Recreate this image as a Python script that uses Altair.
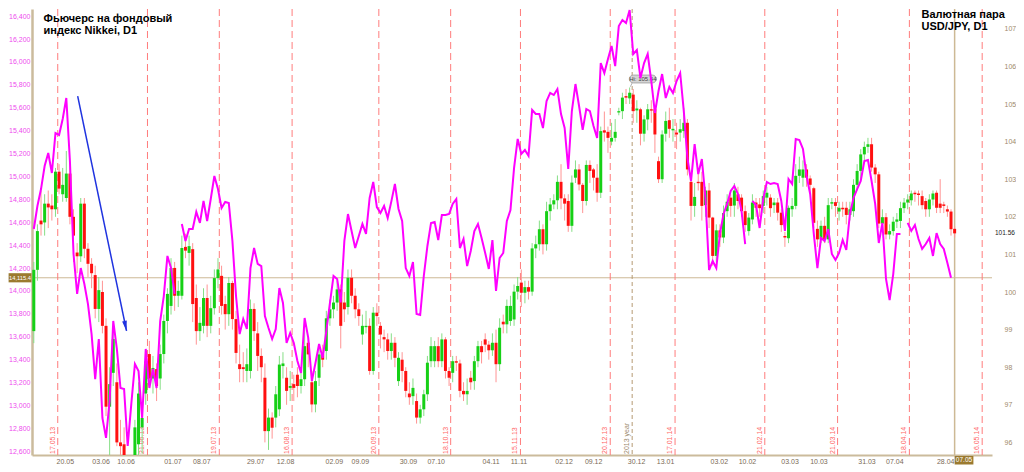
import altair as alt
import pandas as pd

# ---------------- data ----------------
# USD/JPY daily candles (right axis), one value per trading day
OPEN = [
98.96,100.59,101.90,101.85,102.35,102.30,102.20,103.20,102.60,102.50,
103.15,102.00,101.05,100.95,102.35,101.15,100.75,100.45,99.55,100.00,
99.10,96.95,97.85,97.60,96.00,95.95,95.30,94.10,95.30,95.95,
96.40,97.30,98.35,97.70,97.95,97.70,98.35,99.23,99.63,100.64,
99.90,99.90,101.20,101.04,101.14,99.84,98.96,99.10,99.84,99.10,
99.57,100.37,100.43,99.68,99.41,100.24,99.28,98.08,98.00,97.90,
97.90,99.55,98.90,98.30,97.72,96.30,96.66,96.66,96.88,98.03,
97.72,97.45,97.55,97.80,97.50,97.68,98.65,97.60,97.01,97.72,
98.34,98.43,99.30,99.54,99.72,100.07,99.72,99.60,100.38,99.90,
99.54,98.87,99.10,99.10,97.90,99.45,99.10,98.80,98.74,98.43,
98.65,97.63,98.20,97.90,97.30,97.23,97.10,96.66,96.88,97.28,
98.16,98.16,98.56,98.16,98.74,97.90,97.85,98.16,98.10,97.37,
97.28,97.72,97.63,98.16,98.56,98.74,98.60,98.45,98.65,98.08,
99.21,99.14,99.23,99.27,100.01,100.25,99.98,100.13,100.01,101.16,
101.27,101.67,101.27,102.15,102.33,102.44,102.93,102.49,102.42,101.76,
103.04,103.26,102.85,102.42,103.38,103.26,103.04,102.64,104.30,104.26,
104.00,104.10,104.81,104.81,105.21,105.15,105.25,104.83,104.86,104.21,
104.59,104.86,104.86,103.48,103.00,104.21,104.57,104.30,104.24,104.24,
104.28,104.50,102.93,102.29,102.93,102.93,102.31,102.70,101.98,100.96,
101.64,101.45,102.15,102.51,102.30,102.60,102.51,102.15,101.62,101.93,
102.38,102.33,102.29,102.51,102.51,102.31,102.38,102.11,101.49,101.43,
102.20,102.29,103.09,103.04,103.26,103.02,102.76,101.68,101.40,101.76,
101.40,102.35,102.39,102.14,102.24,102.24,102.05,102.15,102.85,103.22,
103.66,103.86,103.93,103.31,103.13,101.82,101.99,101.53,101.62,101.87,
101.89,102.23,102.38,102.44,102.64,102.62,102.55,102.42,102.20,102.46,
102.64,102.35,102.33,102.20,102.14,101.68]
HIGH = [
100.80,101.80,102.70,102.60,102.70,102.60,103.30,103.40,103.30,103.75,
103.40,102.20,101.30,102.50,102.50,101.30,100.90,100.70,100.40,100.30,
99.30,98.00,99.00,98.10,96.60,96.40,95.40,95.30,96.60,97.60,
97.00,98.40,98.70,98.30,98.10,98.60,99.40,100.10,100.90,100.80,
100.30,101.50,101.55,101.50,101.30,100.20,99.60,100.10,100.20,99.90,
100.60,100.90,100.70,99.90,100.40,100.30,99.50,98.60,98.40,98.50,
99.80,99.70,99.20,98.50,98.10,96.90,96.80,97.50,98.30,98.40,
98.00,97.90,97.80,98.00,98.00,99.00,98.80,97.90,97.90,98.60,
98.60,99.50,99.80,99.90,100.30,100.20,100.00,100.60,100.60,100.10,
99.70,99.40,99.50,99.30,99.60,99.70,99.20,99.00,98.90,98.90,
98.80,98.40,98.40,98.00,97.60,97.70,97.30,97.00,97.40,98.30,
98.80,98.70,98.80,98.90,98.80,98.00,98.30,98.30,98.20,97.60,
97.70,97.90,98.30,98.70,98.70,98.90,98.70,98.90,99.00,99.30,
99.40,99.80,99.90,100.20,100.40,100.60,100.30,100.30,101.30,101.50,
101.90,101.80,102.40,102.50,102.60,103.10,103.40,102.60,102.60,103.10,
103.50,103.40,102.90,103.50,103.50,103.30,103.40,104.40,104.80,104.40,
104.50,104.60,104.90,105.30,105.40,105.44,105.40,105.10,104.90,104.70,
105.00,105.10,104.90,103.60,104.30,104.80,104.90,104.60,104.50,104.60,
104.90,104.60,103.10,102.90,103.20,103.20,102.80,102.90,102.00,101.80,
101.80,102.30,102.60,102.60,102.90,102.80,102.60,102.30,102.10,102.60,
102.50,102.50,102.70,102.80,102.60,102.50,102.50,102.20,101.60,102.30,
102.50,103.40,103.60,103.50,103.40,103.10,102.80,101.90,101.90,102.00,
102.50,102.50,102.50,102.40,102.40,102.40,102.40,103.00,103.40,103.80,
104.00,104.10,104.10,103.40,103.20,102.20,102.10,101.80,102.00,102.10,
102.40,102.50,102.60,102.70,102.70,102.70,102.70,102.50,102.60,102.70,
102.70,103.00,102.40,102.30,102.20,101.75]
LOW = [
98.64,100.30,101.50,101.50,101.70,101.90,102.00,102.60,102.40,102.40,
101.80,100.80,100.50,100.80,100.90,100.40,100.10,99.30,99.20,98.90,
96.70,95.40,97.50,95.90,95.60,94.50,93.80,93.90,95.00,95.60,
95.70,97.00,97.50,97.30,97.10,97.40,98.10,98.90,99.40,99.50,
99.60,99.80,100.90,100.70,99.20,98.60,98.70,98.90,98.80,98.90,
99.40,100.10,99.40,99.00,99.10,99.00,98.10,97.60,97.60,97.60,
97.70,98.70,97.90,97.60,96.00,95.80,96.10,96.40,96.70,97.70,
97.00,97.10,97.10,97.20,97.30,97.50,98.00,96.80,96.80,97.50,
98.00,98.20,99.10,99.30,99.50,98.50,99.20,99.40,99.70,99.30,
99.10,98.60,98.90,97.80,97.80,99.10,98.50,98.40,98.20,98.20,
98.00,97.50,97.60,97.20,97.00,97.00,96.50,96.50,96.70,97.10,
98.00,98.00,98.00,98.00,97.70,97.50,97.60,97.90,97.20,97.10,
97.00,97.40,97.40,98.00,98.10,98.40,98.20,98.30,97.60,97.90,
98.90,98.90,99.10,99.10,99.80,99.60,99.70,99.80,99.90,100.90,
101.10,101.00,101.10,101.90,102.20,102.20,102.20,101.90,101.60,101.60,
102.90,102.70,102.10,102.30,102.90,102.70,102.40,102.50,104.00,103.70,
103.90,104.00,104.70,104.60,105.00,105.00,104.50,104.50,103.90,104.00,
104.30,104.50,103.70,102.90,102.90,104.00,104.10,104.00,103.80,104.00,
104.10,103.10,101.90,102.00,102.70,101.90,102.00,101.70,100.70,100.80,
101.20,101.30,102.00,102.00,102.00,102.20,102.00,101.60,101.50,101.80,
102.00,102.00,102.10,102.30,102.00,102.10,101.90,101.60,101.20,101.30,
102.00,102.20,102.90,102.80,102.80,102.60,101.70,101.20,101.30,101.30,
101.30,102.20,102.00,101.90,102.00,101.80,101.90,102.00,102.70,103.00,
103.50,103.70,103.20,102.90,101.70,101.60,101.40,101.40,101.50,101.70,
101.70,102.10,102.20,102.30,102.40,102.30,102.20,102.00,102.00,102.30,
102.10,102.10,102.10,102.00,101.50,101.45]
CLOSE = [
100.59,101.62,101.80,102.35,102.25,102.20,103.20,102.75,102.85,103.15,
102.00,101.50,100.95,102.35,101.15,100.75,100.50,99.55,100.05,99.10,
96.95,97.55,98.75,96.00,95.90,95.50,94.10,95.20,96.40,97.30,
96.65,98.15,97.70,97.98,97.50,98.35,99.23,99.95,100.64,99.90,
100.03,101.17,101.10,101.22,99.68,98.96,99.18,99.84,99.10,99.57,
100.37,100.60,99.63,99.41,100.24,99.28,98.38,97.95,97.95,98.08,
99.55,98.96,98.30,98.00,96.30,96.66,96.39,97.28,98.07,98.10,
97.37,97.50,97.45,97.50,97.68,98.56,98.34,97.01,97.63,98.34,
98.20,99.30,99.54,99.72,100.07,99.10,99.54,100.38,99.90,99.54,
99.36,99.10,99.12,97.90,99.45,99.36,98.87,98.74,98.43,98.65,
98.25,98.25,97.90,97.37,97.20,97.45,96.66,96.88,97.28,98.12,
98.56,98.56,98.16,98.74,97.90,97.72,98.16,98.12,97.37,97.28,
97.37,97.60,98.16,98.56,98.40,98.60,98.45,98.65,98.08,99.05,
99.14,99.63,99.63,100.01,100.16,99.98,100.13,100.01,101.16,101.27,
101.67,101.27,102.15,102.33,102.44,102.93,102.49,102.35,101.76,102.91,
103.26,102.86,102.42,103.38,103.22,103.04,102.64,104.28,104.24,104.10,
104.10,104.26,104.83,105.17,105.17,105.30,104.81,104.88,104.21,104.59,
104.86,104.83,104.19,103.00,104.19,104.55,104.34,104.34,104.19,104.33,
104.50,103.26,102.29,102.53,102.91,102.29,102.70,101.98,100.96,101.64,
101.45,102.10,102.40,102.29,102.70,102.42,102.15,101.78,101.98,102.38,
102.24,102.23,102.55,102.64,102.23,102.38,102.11,101.78,101.45,102.24,
102.29,103.09,103.26,103.26,103.04,102.85,101.84,101.40,101.76,101.40,
102.31,102.39,102.29,102.24,102.20,102.05,102.20,102.85,103.22,103.66,
103.86,103.93,103.31,103.13,101.82,101.99,101.53,101.62,101.87,101.93,
102.23,102.38,102.46,102.62,102.60,102.58,102.31,102.20,102.46,102.62,
102.24,102.24,102.29,102.14,101.67,101.56]

# Nikkei futures close (left axis); None = break in the line
NIKKEI = [
14541,14742,14890,15091,15205,15030,15379,15362,15502,15685,
15135,14323,13974,14200,14061,13886,13624,13231,13581,12891,
12717,13040,13738,13494,13153,13144,12647,13014,13363,13302,
12891,13494,13153,13319,13153,13738,13956,14306,14200,13974,
None,
14585,14437,14541,14541,14690,14594,14786,14611,14803,15004,
14890,14725,14777,14768,14437,13956,13624,13756,13668,14200,
14375,14236,14218,13782,13677,
13581,13668,14026,13895,13546,13633,13546,13389,13284,13764,
13590,13214,13371,13537,13415,13650,13895,14131,14105,13900,
14437,14672,14524,14375,14480,14585,14498,14812,14952,14733,
14681,14742,14637,14780,14934,14716,14611,
14200,14131,14253,13799,13790,14131,14393,14594,14602,14445,
14663,14663,14672,14760,14803,14375,14454,14218,14349,14524,
14585,14463,14332,14192,14445,14000,14288,14332,14611,14707,
15074,15327,15196,15231,15179,15580,15545,15545,15423,15659,
15729,15711,15763,15545,15423,15065,15571,15807,15615,15406,
15589,15571,15440,15336,15990,15903,16025,16139,15964,16313,
16366,16340,16453,16069,16104,15859,15990,16069,
15833,15554,15746,15894,15685,15781,15729,15833,15903,15571,
15161,14960,15283,15021,15152,14812,14183,14262,14200,14498,
14672,14760,14873,14917,14847,14698,14410,None,14786,14751,
14550,14803,14952,14934,14943,14934,14786,14524,14978,14934,
15327,15318,15240,15004,14847,14498,14200,14463,14437,14541,
14323,14271,14332,14445,14358,14672,14812,14890,14960,15135,
15144,14960,14760,14419,14594,14105,13921,14148,
14498,14498,None,14594,14524,14576,14454,14367,14410,14463,
14306,14506,14410,14367,14244,14115]

# bottom date labels (position in trading-day units) and texts
TICK_POS = [8.6, 18.5, 25.4, 38.4, 46.4, 61.3, 69.6, 83.1, 90.3, 103.6, 111.3, 126.5,
            134.2, 146.7, 154.9, 166.8, 174.8, 189.7, 197.5, 209.3, 217.3, 230.6, 238.3, 252.4]
TICK_TXT = ["20.05", "03.06", "10.06", "01.07", "08.07", "29.07", "12.08", "02.09", "09.09",
            "30.09", "07.10", "04.11", "11.11", "02.12", "09.12", "30.12", "13.01", "03.02",
            "10.02", "03.03", "10.03", "31.03", "07.04", "28.04"]
# dashed red vertical lines (expiry dates)
VLINE_POS = [6.63, 31.48, 51.37, 71.53, 95.55, 115.44, 134.77, 159.63, 177.58, 202.43,
             222.59, 242.47, 262.63]
VLINE_TXT = ["17.05.13", "21.06.13", "19.07.13", "16.08.13", "20.09.13", "18.10.13",
             "15.11.13", "20.12.13", "17.01.14", "21.02.14", "21.03.14", "18.04.14", "16.05.14"]
YEAR_POS = [165.7]
YEAR_TXT = ["2013 year"]
NOW_POS = [255.0]
NOW_TXT = ["07.05"]
LEFT_TICKS = list(range(12600, 16401, 200))
RIGHT_TICKS = list(range(96, 108))
LAST_NIKKEI = [14115.4]
LAST_NIKKEI_TXT = ["14,115.4"]
LAST_USDJPY = [101.56]
LAST_USDJPY_TXT = ["101.56"]
HI_TXT = ["Hi: 105.44"]
ARROW_X = [12.15, 25.68]
ARROW_V = [15702, 13651]
TITLE_LEFT = "Фьючерс на фондовый\nиндекс Nikkei, D1"
TITLE_RIGHT = "Валютная пара\nUSD/JPY, D1"

# ---------------- layout ----------------
W, H = 960, 446
FONT = "Liberation Sans"
xs = alt.Scale(domain=[-0.5, 265.35], nice=False, zero=False)
yl = alt.Scale(domain=[12568, 16462], nice=False, zero=False)
yr = alt.Scale(domain=[95.665, 107.527], nice=False, zero=False)

label_expr = "[" + ",".join(repr(t) for t in TICK_TXT) + "][indexof([" + \
    ",".join(str(p) for p in TICK_POS) + "], datum.value)]"
X_AX = alt.Axis(values=TICK_POS, labelExpr=label_expr, title=None, ticks=False, grid=False,
                labelPadding=2, labelFontSize=7, labelColor="#7a6a55", labelFont=FONT,
                domainColor="#cbbb9c", domainWidth=2, labelOverlap=False, labelFlush=False)
LEFT_AX = alt.Axis(orient="left", values=LEFT_TICKS, format=",d", title=None, ticks=False,
                   grid=False, labelPadding=2, labelFontSize=7, labelColor="#ee4cee",
                   labelFont=FONT, domainColor="#cbbb9c", domainWidth=2.5,
                   labelOverlap=False, labelFlush=False)
RIGHT_AX = alt.Axis(orient="right", values=RIGHT_TICKS, format="d", title=None, ticks=False,
                    grid=False, domain=False, labelPadding=12, labelFontSize=7,
                    labelColor="#a08a6c", labelFont=FONT, labelOverlap=False, labelFlush=False)


def X(f):
    return alt.X(f"{f}:Q", scale=xs, axis=X_AX)


def YR(f):
    return alt.Y(f"{f}:Q", scale=yr, axis=RIGHT_AX)


def YA(f):
    return alt.Y(f"{f}:Q", scale=yl, axis=LEFT_AX)


def YC(f):
    return alt.Y(f"{f}:Q", scale=yl, axis=None)


# ---------------- data frames ----------------
candles = pd.DataFrame({"x": list(range(len(OPEN))), "o": OPEN, "h": HIGH, "l": LOW, "c": CLOSE})
rows, seg = [], 0
for k, v in enumerate(NIKKEI):
    if v is None:
        seg += 1
        continue
    rows.append({"x": k, "v": v, "seg": seg})
nk = pd.DataFrame(rows)
vl = pd.DataFrame({"x": VLINE_POS, "t": VLINE_TXT})
yrl = pd.DataFrame({"x": YEAR_POS, "t": YEAR_TXT})
now = pd.DataFrame({"x": NOW_POS, "x2": [NOW_POS[0] + 5.2], "xm": [NOW_POS[0] + 2.6], "t": NOW_TXT})
hl = pd.DataFrame({"v": LAST_NIKKEI, "t": LAST_NIKKEI_TXT})
lu = pd.DataFrame({"v": LAST_USDJPY, "t": LAST_USDJPY_TXT})
hi = pd.DataFrame({"x": [164.9], "x2": [172.4], "xm": [168.65], "y": [105.56], "y2": [105.77],
                   "ym": [105.665], "px": [165.7], "px2": [165.2], "py": [105.56], "py2": [105.46],
                   "t": HI_TXT})
arrow = pd.DataFrame({"x": ARROW_X, "v": ARROW_V})
head = pd.DataFrame({"x": [ARROW_X[1] - 0.28], "v": [ARROW_V[1] + 43]})
titles = pd.DataFrame({"t": [TITLE_LEFT, TITLE_RIGHT], "px": [11.5, 889.5], "py": [4, 0]})

GREEN, RED = "#16d016", "#ff1010"
LGREEN, LRED = "#86de86", "#ff9494"
up = "datum.c >= datum.o"

# ---------------- group A: left scale (background line + left axis) ----------------
hline = alt.Chart(hl).mark_rule(color="#cdb995", strokeWidth=1).encode(y=YA("v"))
group_a = alt.layer(hline)

# ---------------- group B: right scale (grid lines, candles) ----------------
vrules = alt.Chart(vl).mark_rule(color="#ff7c7c", strokeDash=[7, 4], strokeWidth=1).encode(x=X("x"))
vtext = alt.Chart(vl).mark_text(angle=270, align="left", baseline="bottom", dy=-2, fontSize=7,
                                color="#ff6666", font=FONT).encode(
    x=X("x"), y=alt.value(H - 1), text="t:N")
yrule = alt.Chart(yrl).mark_rule(color="#b59a72", strokeDash=[4, 3], strokeWidth=1).encode(x=X("x"))
ytext = alt.Chart(yrl).mark_text(angle=270, align="left", baseline="bottom", dy=-2, fontSize=7,
                                 color="#9c8a6c", font=FONT).encode(
    x=X("x"), y=alt.value(H - 1), text="t:N")
nrule = alt.Chart(now).mark_rule(color="#cdb995", strokeWidth=1.5).encode(x=X("x"))
wicks = alt.Chart(candles).mark_rule(strokeWidth=1, clip=True).encode(
    x=X("x"), y=YR("l"), y2="h:Q",
    color=alt.condition(up, alt.value(LGREEN), alt.value(LRED)))
bodies = alt.Chart(candles).transform_calculate(
    c2="abs(datum.c - datum.o) < 0.035 ? datum.o - 0.035 : datum.c"
).mark_rule(strokeWidth=3, clip=True).encode(
    x=X("x"), y=YR("o"), y2="c2:Q",
    color=alt.condition(up, alt.value(GREEN), alt.value(RED)))
hibox = alt.Chart(hi).mark_rect(fill="#d4d4d4", stroke="#9c9c9c", strokeWidth=0.8,
                                cornerRadius=4).encode(x=X("x"), x2="x2:Q", y=YR("y"), y2="y2:Q")
hiptr = alt.Chart(hi).mark_rule(color="#9c9c9c", strokeWidth=0.8).encode(
    x=X("px"), x2="px2:Q", y=YR("py"), y2="py2:Q")
hitxt = alt.Chart(hi).mark_text(fontSize=6, color="#444444", font=FONT).encode(
    x=X("xm"), y=YR("ym"), text="t:N")
lutxt = alt.Chart(lu).mark_text(align="left", baseline="middle", fontSize=6.5, color="#222222",
                                font=FONT).encode(x=alt.value(W + 3), y=YR("v"), text="t:N")
nowbox = alt.Chart(now).mark_rect(fill="#9b7a2f").encode(
    x=X("x"), x2="x2:Q", y=alt.value(H + 1), y2=alt.value(H + 9.5))
nowtxt = alt.Chart(now).mark_text(fontSize=6.5, color="white", baseline="middle",
                                  font=FONT).encode(x=X("xm"), y=alt.value(H + 5.3), text="t:N")
group_b = alt.layer(vrules, vtext, yrule, ytext, nrule, wicks, bodies, hibox, hiptr, hitxt,
                    lutxt, nowbox, nowtxt)

# ---------------- group C: left scale (Nikkei line, arrow, labels) ----------------
nline = alt.Chart(nk).mark_line(color="#ff00ff", strokeWidth=2, clip=True).encode(
    x=X("x"), y=YC("v"), detail="seg:N")
aline = alt.Chart(arrow).mark_line(color="#1f33e0", strokeWidth=1.5).encode(x=X("x"), y=YC("v"))
ahead = alt.Chart(head).mark_point(shape="M -0.45 -1 L 0.45 -1 L 0 1 Z", angle=348, size=110,
                                   filled=True, color="#1f33e0", opacity=1).encode(
    x=X("x"), y=YC("v"))
lbox = alt.Chart(hl).transform_calculate(lo="datum.v - 40", hi="datum.v + 40").mark_rect(
    fill="#9b7a2f").encode(x=alt.value(-23.4), x2=alt.value(-0.5), y=YC("lo"), y2="hi:Q")
ltxt = alt.Chart(hl).mark_text(fontSize=5.8, color="white", baseline="middle",
                               font=FONT).encode(x=alt.value(-12), y=YC("v"), text="t:N")
ttl = alt.Chart(titles).mark_text(align="left", baseline="top", fontSize=11, fontWeight="bold",
                                  lineHeight=12, lineBreak="\n", color="black",
                                  font=FONT).encode(
    x=alt.X("px:Q", scale=None, axis=None), y=alt.Y("py:Q", scale=None, axis=None), text="t:N")
group_c = alt.layer(nline, aline, ahead, lbox, ltxt)

chart = alt.layer(group_a, group_b, group_c, ttl).resolve_scale(y="independent").properties(
    width=W, height=H, padding={"left": 0, "top": 0, "right": 0, "bottom": 0},
    background="white"
).configure_view(strokeWidth=0)

chart.save("out.html", embed_options={"renderer": "svg", "actions": False})
